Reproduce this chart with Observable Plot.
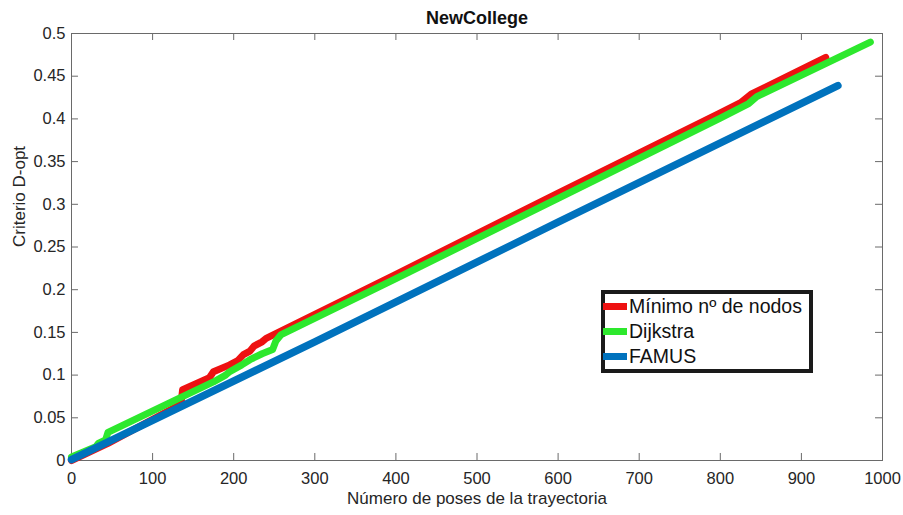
<!DOCTYPE html>
<html>
<head>
<meta charset="utf-8">
<script src="https://cdn.jsdelivr.net/npm/d3@7"></script>
<script src="https://cdn.jsdelivr.net/npm/@observablehq/plot@0.6"></script>
<style>
  body { margin: 0; background: #fff; font-family: "Liberation Sans", Arial, Helvetica, sans-serif; }
  #wrap { position: relative; width: 903px; height: 515px; }
  #legend { position: absolute; left: 601px; top: 290px; width: 204px; height: 75px;
            border: 4px solid #1a1a1a; background: #fff; }
  .row { height: 25px; display: flex; align-items: center; font-size: 19.5px; color: #111; white-space: nowrap; }
  .sw { width: 24px; height: 7px; margin-left: -2px; margin-right: 2px; }
</style>
</head>
<body>
<div id="wrap"></div>
<script>
// ---- data ----
const seriesNames = ["Mínimo nº de nodos", "Dijkstra", "FAMUS"];
const seriesColors = ["#ee1111", "#2de82d", "#0072bd"];

const minX = [0, 45, 135, 137, 170, 175, 195, 205, 212, 220, 225, 235, 240, 255, 400, 600, 800, 825, 838, 930];
const minY = [0, 0.02, 0.066, 0.083, 0.097, 0.104, 0.112, 0.117, 0.124, 0.128, 0.134, 0.139, 0.143, 0.15, 0.218, 0.313, 0.407, 0.419, 0.429, 0.472];

const dijX = [0, 30, 33, 42, 45, 135, 175, 190, 195, 210, 220, 235, 248, 252, 258, 400, 600, 800, 835, 845, 985];
const dijY = [0.004, 0.016, 0.02, 0.024, 0.033, 0.074, 0.092, 0.1, 0.104, 0.112, 0.118, 0.125, 0.13, 0.14, 0.147, 0.213, 0.307, 0.401, 0.418, 0.426, 0.49];

const famX = [0, 300, 600, 945];
const famY = [0.001, 0.139, 0.279, 0.439];

const xTicks = [0, 100, 200, 300, 400, 500, 600, 700, 800, 900, 1000];
const yTicks = [0, 0.05, 0.1, 0.15, 0.2, 0.25, 0.3, 0.35, 0.4, 0.45, 0.5];

const titleText = "NewCollege";
const xLabel = "Número de poses de la trayectoria";
const yLabel = "Criterio D-opt";

// ---- build rows ----
const toRows = (xs, ys) => xs.map((x, i) => ({x, y: ys[i]}));
const minRows = toRows(minX, minY);
const dijRows = toRows(dijX, dijY);
const famRows = toRows(famX, famY);

const axisColor = "#6a6a6a";
const textColor = "#262626";
const tickLenY = 0.0082;   // in y units (~7px)
const tickLenX = 8.6;      // in x units (~7px)

const plot = Plot.plot({
  width: 903,
  height: 515,
  marginLeft: 71,
  marginRight: 21,
  marginTop: 33,
  marginBottom: 55,
  x: {domain: [0, 1000]},
  y: {domain: [0, 0.5]},
  style: {fontFamily: '"Liberation Sans", Arial, Helvetica, sans-serif', fontSize: "16.5px", color: textColor, background: "#fff"},
  marks: [
    Plot.frame({stroke: axisColor}),
    Plot.ruleX(xTicks, {x: d => d, y1: 0, y2: tickLenY, stroke: axisColor}),
    Plot.ruleX(xTicks, {x: d => d, y1: 0.5 - tickLenY, y2: 0.5, stroke: axisColor}),
    Plot.ruleY(yTicks, {y: d => d, x1: 0, x2: tickLenX, stroke: axisColor}),
    Plot.ruleY(yTicks, {y: d => d, x1: 1000 - tickLenX, x2: 1000, stroke: axisColor}),
    Plot.axisX({ticks: xTicks, tickSize: 0, tickPadding: 12, label: null, tickFormat: d => String(d), fill: textColor}),
    Plot.axisY({ticks: yTicks, tickSize: 0, tickPadding: 6, label: null, tickFormat: d => String(d), fill: textColor}),
    Plot.line(minRows, {x: "x", y: "y", stroke: seriesColors[0], strokeWidth: 7, strokeLinejoin: "round"}),
    Plot.line(dijRows, {x: "x", y: "y", stroke: seriesColors[1], strokeWidth: 7, strokeLinejoin: "round"}),
    Plot.line(famRows, {x: "x", y: "y", stroke: seriesColors[2], strokeWidth: 7.5, strokeLinejoin: "round"}),
    Plot.text([titleText], {text: d => d, frameAnchor: "top", dy: -15, fontSize: 18, fontWeight: "bold", fill: "#111", lineAnchor: "middle"}),
    Plot.text([xLabel], {text: d => d, frameAnchor: "bottom", dy: 38, fontSize: 17, fill: textColor, lineAnchor: "middle"}),
    Plot.text([yLabel], {text: d => d, frameAnchor: "left", dx: -52, rotate: -90, fontSize: 17, fill: textColor, lineAnchor: "middle"})
  ]
});

const wrap = document.getElementById("wrap");
wrap.appendChild(plot);

const legend = document.createElement("div");
legend.id = "legend";
seriesNames.forEach((name, i) => {
  const row = document.createElement("div");
  row.className = "row";
  const sw = document.createElement("span");
  sw.className = "sw";
  sw.style.background = seriesColors[i];
  const t = document.createElement("span");
  t.textContent = name;
  row.appendChild(sw);
  row.appendChild(t);
  legend.appendChild(row);
});
wrap.appendChild(legend);
</script>
</body>
</html>
